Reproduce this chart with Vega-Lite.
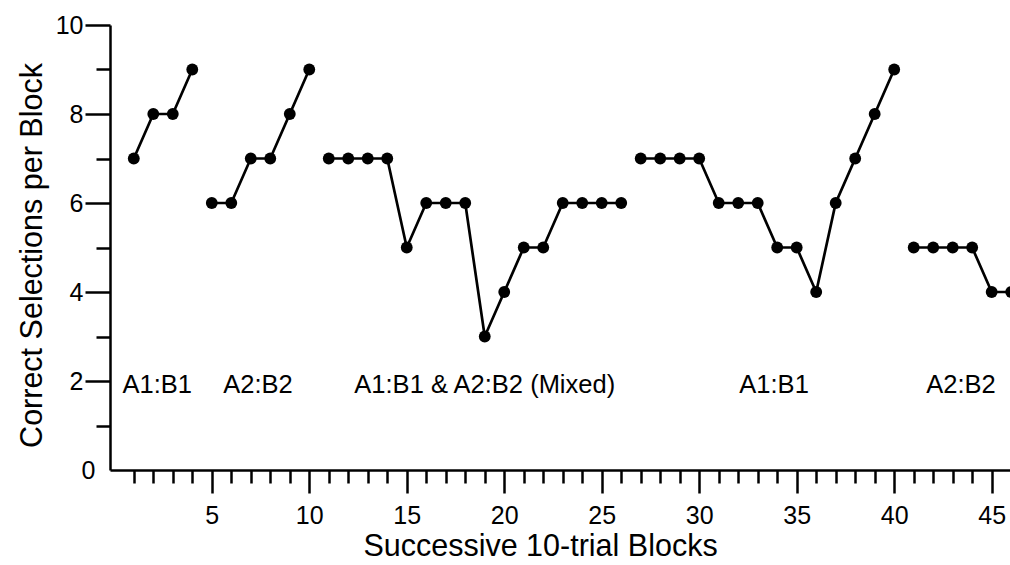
{
  "$schema": "https://vega.github.io/schema/vega-lite/v6.json",
  "width": 900,
  "height": 445,
  "autosize": {"type": "none"},
  "padding": {"left": 110, "top": 25, "right": 0, "bottom": 95},
  "background": "white",
  "config": {
    "view": {"stroke": null},
    "font": "Liberation Sans",
    "axis": {
      "domainColor": "black",
      "domainWidth": 2.5,
      "tickColor": "black",
      "tickWidth": 2.5,
      "labelColor": "black",
      "titleColor": "black",
      "labelFont": "Liberation Sans",
      "titleFont": "Liberation Sans",
      "labelFontSize": 25,
      "titleFontSize": 30.5,
      "titleFontWeight": "normal",
      "labelOverlap": false,
      "grid": false
    }
  },
  "resolve": {"axis": {"x": "independent", "y": "independent"}},
  "datasets": {
    "blocks": [
      {"block": 1, "correct": 7, "phase": "p1"},
      {"block": 2, "correct": 8, "phase": "p1"},
      {"block": 3, "correct": 8, "phase": "p1"},
      {"block": 4, "correct": 9, "phase": "p1"},
      {"block": 5, "correct": 6, "phase": "p2"},
      {"block": 6, "correct": 6, "phase": "p2"},
      {"block": 7, "correct": 7, "phase": "p2"},
      {"block": 8, "correct": 7, "phase": "p2"},
      {"block": 9, "correct": 8, "phase": "p2"},
      {"block": 10, "correct": 9, "phase": "p2"},
      {"block": 11, "correct": 7, "phase": "p3"},
      {"block": 12, "correct": 7, "phase": "p3"},
      {"block": 13, "correct": 7, "phase": "p3"},
      {"block": 14, "correct": 7, "phase": "p3"},
      {"block": 15, "correct": 5, "phase": "p3"},
      {"block": 16, "correct": 6, "phase": "p3"},
      {"block": 17, "correct": 6, "phase": "p3"},
      {"block": 18, "correct": 6, "phase": "p3"},
      {"block": 19, "correct": 3, "phase": "p3"},
      {"block": 20, "correct": 4, "phase": "p3"},
      {"block": 21, "correct": 5, "phase": "p3"},
      {"block": 22, "correct": 5, "phase": "p3"},
      {"block": 23, "correct": 6, "phase": "p3"},
      {"block": 24, "correct": 6, "phase": "p3"},
      {"block": 25, "correct": 6, "phase": "p3"},
      {"block": 26, "correct": 6, "phase": "p3"},
      {"block": 27, "correct": 7, "phase": "p4"},
      {"block": 28, "correct": 7, "phase": "p4"},
      {"block": 29, "correct": 7, "phase": "p4"},
      {"block": 30, "correct": 7, "phase": "p4"},
      {"block": 31, "correct": 6, "phase": "p4"},
      {"block": 32, "correct": 6, "phase": "p4"},
      {"block": 33, "correct": 6, "phase": "p4"},
      {"block": 34, "correct": 5, "phase": "p4"},
      {"block": 35, "correct": 5, "phase": "p4"},
      {"block": 36, "correct": 4, "phase": "p4"},
      {"block": 37, "correct": 6, "phase": "p4"},
      {"block": 38, "correct": 7, "phase": "p4"},
      {"block": 39, "correct": 8, "phase": "p4"},
      {"block": 40, "correct": 9, "phase": "p4"},
      {"block": 41, "correct": 5, "phase": "p5"},
      {"block": 42, "correct": 5, "phase": "p5"},
      {"block": 43, "correct": 5, "phase": "p5"},
      {"block": 44, "correct": 5, "phase": "p5"},
      {"block": 45, "correct": 4, "phase": "p5"},
      {"block": 46, "correct": 4, "phase": "p5"}
    ],
    "labels": [
      {"block": 2.2, "correct": 1.9, "label": "A1:B1"},
      {"block": 7.37, "correct": 1.9, "label": "A2:B2"},
      {"block": 19.0, "correct": 1.9, "label": "A1:B1 & A2:B2 (Mixed)"},
      {"block": 33.84, "correct": 1.9, "label": "A1:B1"},
      {"block": 43.43, "correct": 1.9, "label": "A2:B2"}
    ]
  },
  "layer": [
    {
      "data": {"name": "blocks"},
      "mark": {"type": "line", "color": "black", "strokeWidth": 2.7, "clip": true},
      "encoding": {
        "x": {
          "field": "block",
          "type": "quantitative",
          "scale": {"domain": [-0.22, 45.94], "nice": false, "zero": false},
          "axis": {
            "orient": "bottom",
            "title": "Successive 10-trial Blocks",
            "values": [5, 10, 15, 20, 25, 30, 35, 40, 45],
            "tickSize": 23,
            "labelFontSize": 25,
            "labelPadding": 10,
            "labelFlush": false,
            "labelOverlap": false,
            "titlePadding": 3,
            "titleX": 430
          }
        },
        "y": {
          "field": "correct",
          "type": "quantitative",
          "scale": {"domain": [0, 10], "nice": false},
          "axis": {
            "orient": "left",
            "title": "Correct Selections per Block",
            "values": [2, 4, 6, 8, 10],
            "tickSize": 25,
            "labelFontSize": 25,
            "labelPadding": 2,
            "labelOverlap": false,
            "titlePadding": 8,
            "titleY": 230
          }
        },
        "detail": {"field": "phase"}
      }
    },
    {
      "data": {"name": "blocks"},
      "mark": {"type": "circle", "size": 140, "opacity": 1, "color": "black", "clip": true},
      "encoding": {
        "x": {
          "field": "block",
          "type": "quantitative",
          "axis": {
            "orient": "bottom",
            "title": null,
            "values": [1,2,3,4,6,7,8,9,11,12,13,14,16,17,18,19,21,22,23,24,26,27,28,29,31,32,33,34,36,37,38,39,41,42,43,44],
            "tickSize": 13,
            "labels": false,
            "domain": false
          }
        },
        "y": {
          "field": "correct",
          "type": "quantitative",
          "axis": {
            "orient": "left",
            "title": null,
            "values": [1, 3, 5, 7, 9],
            "tickSize": 14,
            "labels": false,
            "domain": false
          }
        }
      }
    },
    {
      "data": {"name": "labels"},
      "mark": {"type": "text", "fontSize": 25.5, "color": "black", "font": "Liberation Sans"},
      "encoding": {
        "x": {"field": "block", "type": "quantitative", "axis": null},
        "y": {
          "field": "correct",
          "type": "quantitative",
          "axis": {
            "orient": "left",
            "title": null,
            "values": [0],
            "ticks": false,
            "labelFontSize": 25,
            "labelPadding": 15,
            "domain": false
          }
        },
        "text": {"field": "label"}
      }
    }
  ]
}
